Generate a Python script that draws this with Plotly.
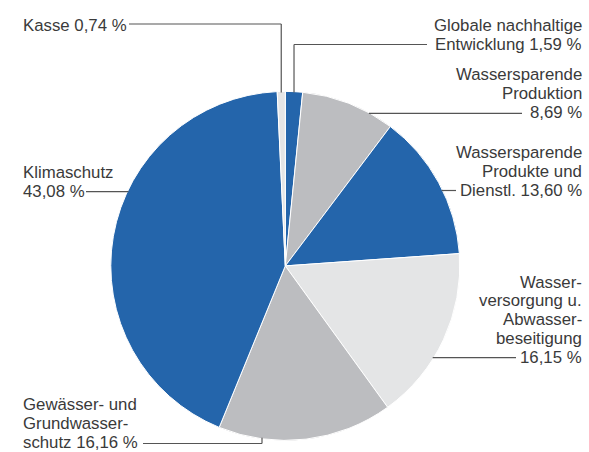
import math
import plotly.graph_objects as go

# ---- data ----
categories = [
    "Globale nachhaltige Entwicklung",
    "Wassersparende Produktion",
    "Wassersparende Produkte und Dienstl.",
    "Wasserversorgung u. Abwasserbeseitigung",
    "Gewässer- und Grundwasserschutz",
    "Klimaschutz",
    "Kasse",
]
shares = [1.59, 8.69, 13.60, 16.15, 16.16, 43.08, 0.74]
share_text = ["1,59 %", "8,69 %", "13,60 %", "16,15 %", "16,16 %", "43,08 %", "0,74 %"]
label_lines = [
    ["Globale nachhaltige", "Entwicklung " + share_text[0]],
    ["Wassersparende", "Produktion", share_text[1]],
    ["Wassersparende", "Produkte und", "Dienstl. " + share_text[2]],
    ["Wasser-", "versorgung u.", "Abwasser-", "beseitigung", share_text[3]],
    ["Gewässer- und", "Grundwasser-", "schutz " + share_text[4]],
    ["Klimaschutz", share_text[5]],
    ["Kasse " + share_text[6]],
]

# ---- style / layout ----
W, H = 589, 452
BLUE, GRAY, LIGHT = "#2465ab", "#bcbdc0", "#e4e5e6"
slice_colors = [BLUE, GRAY, BLUE, LIGHT, GRAY, BLUE, LIGHT]
TEXT_COLOR = "#3a3a3a"
LINE_COLOR = "#555555"
FONT = "Liberation Sans"
FS = 16.8

CX, CY, R = 285.3, 265.9, 174.5  # pie geometry in px


def px(x):
    return x / W


def py(y):
    return 1 - y / H


def edge_x(y, side):
    d = math.sqrt(max(R * R - (y - CY) ** 2, 0))
    return CX + side * d


def edge_y_at(x, side):
    d = math.sqrt(max(R * R - (x - CX) ** 2, 0))
    return CY + side * d


def mid_angle_x(i):
    start = sum(shares[:i])
    mid = (start + shares[i] / 2) / sum(shares) * 2 * math.pi
    return CX + R * math.sin(mid)


fig = go.Figure(
    go.Pie(
        labels=categories,
        values=shares,
        sort=False,
        direction="clockwise",
        rotation=0,
        marker=dict(colors=slice_colors, line=dict(color="white", width=1)),
        textinfo="none",
        hoverinfo="label+value",
        domain=dict(x=[px(CX - R), px(CX + R)], y=[py(CY + R), py(CY - R)]),
        showlegend=False,
    )
)

# text label placement: (anchor x, side, first-line center y); lines 18.9 px apart
LINE_STEP = 18.9
label_pos = [
    (584, "right", 26),
    (584, "right", 75),
    (584, "right", 152.2),
    (584, "right", 282),
    (21, "left", 404.5),
    (21, "left", 172.8),
    (21, "left", 25),
]

annotations = []
for lines, (ax, anchor, y0) in zip(label_lines, label_pos):
    for k, t in enumerate(lines):
        annotations.append(
            dict(
                x=px(ax), y=py(y0 + k * LINE_STEP), xref="paper", yref="paper",
                text=t, showarrow=False, xanchor=anchor, yanchor="middle",
                font=dict(family=FONT, size=FS, color=TEXT_COLOR),
            )
        )

shapes = []


def seg(x0, y0, x1, y1):
    shapes.append(
        dict(type="line", xref="paper", yref="paper",
             x0=px(x0), y0=py(y0), x1=px(x1), y1=py(y1),
             line=dict(color=LINE_COLOR, width=1.2))
    )


# Globale: vertical up from slice then right to text
gx = mid_angle_x(0)
seg(gx, edge_y_at(gx, -1) + 1, gx, 44.5)
seg(gx, 44.5, 427, 44.5)
# Kasse: vertical up then left to text
kx = mid_angle_x(6)
seg(kx, edge_y_at(kx, -1) + 1, kx, 24)
seg(kx, 24, 129, 24)
# Produktion
seg(edge_x(113.3, 1) - 1, 113.3, 522, 113.3)
# Produkte und Dienstl.
seg(edge_x(190.5, 1) - 1, 190.5, 456, 190.5)
# Wasserversorgung
seg(edge_x(357.7, 1) - 1, 357.7, 516, 357.7)
# Klimaschutz
seg(edge_x(191.7, -1) + 1, 191.7, 86, 191.7)
# Gewässer
gwx = 262
seg(gwx, edge_y_at(gwx, 1) - 1, gwx, 443.5)
seg(gwx, 443.5, 143, 443.5)

fig.update_layout(
    width=W, height=H,
    margin=dict(l=0, r=0, t=0, b=0),
    paper_bgcolor="white", plot_bgcolor="white",
    annotations=annotations, shapes=shapes,
)

fig.write_html(
    "out.html",
    config={"displayModeBar": False},
    post_script="document.body.style.margin='0';document.body.style.overflow='hidden';",
)
